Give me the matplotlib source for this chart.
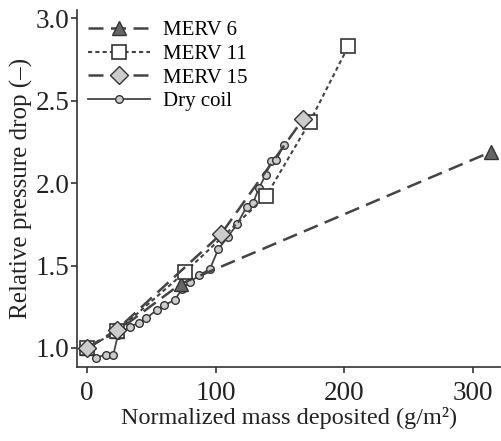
import matplotlib.pyplot as plt

plt.rcParams['font.family'] = ['Liberation Serif', 'DejaVu Serif']
plt.rcParams['font.size'] = 15

# MERV 6
merv6_x = [0, 23, 73, 314]
merv6_y = [1.0, 1.10, 1.39, 2.19]
# MERV 11
merv11_x = [0, 23, 76, 139, 173, 203]
merv11_y = [1.0, 1.10, 1.46, 1.92, 2.37, 2.83]
# MERV 15
merv15_x = [0, 23, 104, 168]
merv15_y = [1.0, 1.11, 1.69, 2.39]
# Dry coil
dry_x = [0, 6.7, 14.5, 20.4, 24, 33, 40, 46, 54, 60, 68, 74, 80, 87, 95.5,
         102, 109.5, 116.5, 124, 129, 133.6, 138.8, 143.2, 147, 152.7]
dry_y = [1.0, 0.94, 0.96, 0.96, 1.08, 1.13, 1.15, 1.18, 1.23, 1.26, 1.29, 1.36,
         1.40, 1.44, 1.48, 1.60, 1.675, 1.75, 1.856, 1.88, 1.97, 2.05, 2.135, 2.14, 2.23]

line_c = '#444444'

fig = plt.figure(figsize=(5.01, 4.41), dpi=100)
ax = fig.add_axes([0.154, 0.168, 0.844, 0.809])

ax.plot(dry_x, dry_y, linestyle='-', color=line_c, lw=1.3, marker='o', markersize=5.5,
        markerfacecolor='#cccccc', markeredgecolor='#333333', markeredgewidth=1.0,
        label='Dry coil', zorder=2)
ax.plot(merv6_x, merv6_y, linestyle=(0, (6, 3)), color=line_c, lw=1.8, marker='^', markersize=10,
        markerfacecolor='#666666', markeredgecolor='#333333', markeredgewidth=1.0,
        label='MERV 6', clip_on=False, zorder=3)
ax.plot(merv11_x, merv11_y, linestyle=(0, (2, 1.5)), color=line_c, lw=1.5, marker='s', markersize=9.5,
        markerfacecolor='white', markeredgecolor='#333333', markeredgewidth=1.2,
        label='MERV 11', zorder=4)
ax.plot(merv15_x, merv15_y, linestyle=(0, (6, 3)), color=line_c, lw=1.8, marker='D', markersize=9.5,
        markerfacecolor='#cccccc', markeredgecolor='#333333', markeredgewidth=1.0,
        label='MERV 15', zorder=5)

ax.set_xlim(-7.75, 321)
ax.set_ylim(0.885, 3.05)
ax.set_xticks([0, 100, 200, 300])
ax.set_yticks([1.0, 1.5, 2.0, 2.5, 3.0])
ax.set_yticklabels(['1.0', '1.5', '2.0', '2.5', '3.0'])
ax.spines['top'].set_visible(False)
ax.spines['right'].set_visible(False)
for s in ['left', 'bottom']:
    ax.spines[s].set_color('#333333')
    ax.spines[s].set_linewidth(1.2)
ax.tick_params(direction='out', length=4, width=1.2, color='#333333', labelcolor='#222222',
               labelsize=19.5)
ax.tick_params(axis='y', pad=1.5)
ax.tick_params(axis='x', pad=6)

ax.set_xlabel('Normalized mass deposited (g/m²)', labelpad=1, color='#222222', fontsize=17.5)
ax.set_ylabel('Relative pressure drop (–)', labelpad=2, color='#222222', fontsize=18)

h, l = ax.get_legend_handles_labels()
order = [1, 2, 3, 0]
ax.legend([h[i] for i in order], [l[i] for i in order], loc='upper left', frameon=False,
          handlelength=3.0, handletextpad=0.6, labelspacing=0.2,
          borderaxespad=0.1, bbox_to_anchor=(0.0, 1.0))

fig.savefig('out.png', dpi=100)
